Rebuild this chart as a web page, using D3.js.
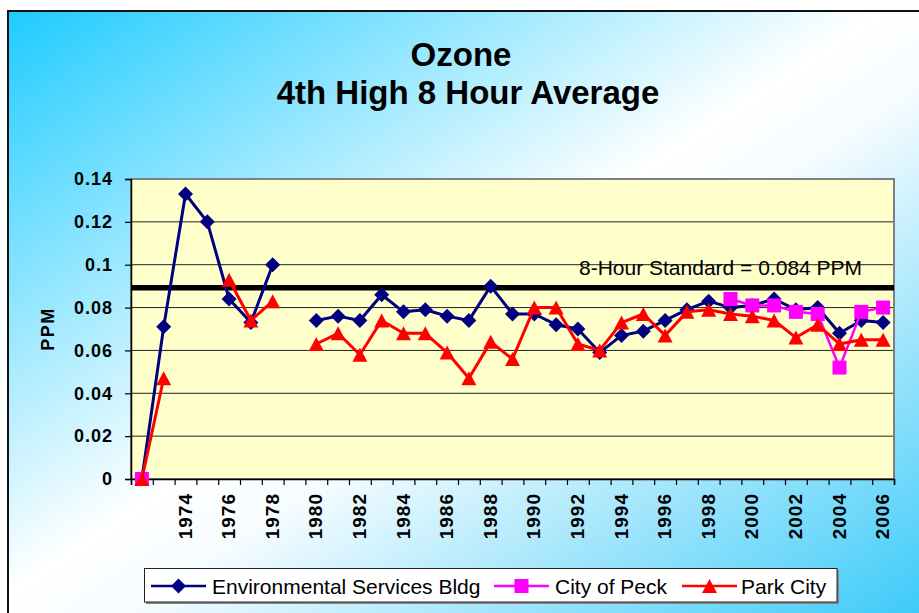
<!DOCTYPE html>
<html>
<head>
<meta charset="utf-8">
<script src="https://cdn.jsdelivr.net/npm/d3@7"></script>
<style>
  html, body { margin: 0; padding: 0; background: #ffffff; }
  svg { display: block; font-family: Arial, "Liberation Sans", sans-serif; }
</style>
</head>
<body>
<svg id="chart" width="919" height="613"></svg>
<script>
// ---------- data ----------
const years = ["1972","1973","1974","1975","1976","1977","1978","1979","1980","1981",
  "1982","1983","1984","1985","1986","1987","1988","1989","1990","1991",
  "1992","1993","1994","1995","1996","1997","1998","1999","2000","2001",
  "2002","2003","2004","2005","2006"];
const shownYearLabels = ["1974","1976","1978","1980","1982","1984","1986","1988","1990",
  "1992","1994","1996","1998","2000","2002","2004","2006"];
const envServicesBldg = [0, 0.071, 0.133, 0.120, 0.084, 0.073, 0.100, null, 0.074, 0.076,
  0.074, 0.086, 0.078, 0.079, 0.076, 0.074, 0.090, 0.077, 0.077, 0.072,
  0.070, 0.059, 0.067, 0.069, 0.074, 0.079, 0.083, 0.080, 0.081, 0.084,
  0.079, 0.080, 0.068, 0.074, 0.073];
const cityOfPeck = [0, null, null, null, null, null, null, null, null, null,
  null, null, null, null, null, null, null, null, null, null,
  null, null, null, null, null, null, null, 0.084, 0.081, 0.081,
  0.078, 0.077, 0.052, 0.078, 0.080];
const parkCity = [0, 0.047, null, null, 0.093, 0.074, 0.083, null, 0.063, 0.068,
  0.058, 0.074, 0.068, 0.068, 0.059, 0.047, 0.064, 0.056, 0.080, 0.080,
  0.063, 0.060, 0.073, 0.077, 0.067, 0.078, 0.079, 0.077, 0.076, 0.074,
  0.066, 0.072, 0.063, 0.065, 0.065];
const yTickValues = [0, 0.02, 0.04, 0.06, 0.08, 0.1, 0.12, 0.14];
const yTickLabels = ["0", "0.02", "0.04", "0.06", "0.08", "0.1", "0.12", "0.14"];
const standardValue = 0.0893;
const standardLabel = "8-Hour Standard = 0.084 PPM";
const seriesNames = ["Environmental Services Bldg", "City of Peck", "Park City"];
const titleLines = ["Ozone", "4th High 8 Hour Average"];
const yAxisTitle = "PPM";

// ---------- layout ----------
const svg = d3.select("#chart");
const plot = { left: 131, right: 894, top: 179, bottom: 479 };

const defs = svg.append("defs");
const grad = defs.append("linearGradient").attr("id", "bg")
  .attr("x1", 0).attr("y1", 0).attr("x2", 1).attr("y2", 1);
grad.append("stop").attr("offset", 0).attr("stop-color", "#1ECBFF");
grad.append("stop").attr("offset", 0.47).attr("stop-color", "#FFFFFF");
grad.append("stop").attr("offset", 0.55).attr("stop-color", "#F6FCFF");
grad.append("stop").attr("offset", 1).attr("stop-color", "#33C8F8");

svg.append("rect").attr("x", 8).attr("y", 11).attr("width", 930).attr("height", 620)
  .attr("fill", "url(#bg)").attr("stroke", "#111").attr("stroke-width", 2);

// title
svg.append("text").attr("x", 461).attr("y", 66).attr("text-anchor", "middle")
  .attr("font-size", 33).attr("font-weight", "bold").text(titleLines[0]);
svg.append("text").attr("x", 468).attr("y", 104).attr("text-anchor", "middle")
  .attr("font-size", 33).attr("font-weight", "bold").text(titleLines[1]);

// scales
const x = d3.scaleBand().domain(years).range([plot.left, plot.right]).padding(0);
const xEdge = d3.scaleLinear().domain([0, years.length]).range([plot.left, plot.right]);
const y = d3.scaleLinear().domain([0, 0.14]).range([plot.bottom, plot.top]);
const cx = d => x(d) + x.bandwidth() / 2;

// plot area
svg.append("rect").attr("x", plot.left).attr("y", plot.top)
  .attr("width", plot.right - plot.left).attr("height", plot.bottom - plot.top)
  .attr("fill", "#FFFFCC");

// gridlines
svg.append("g").selectAll("line").data(yTickValues.filter(v => v > 0)).join("line")
  .attr("x1", plot.left).attr("x2", plot.right)
  .attr("y1", d => y(d)).attr("y2", d => y(d))
  .attr("stroke", "#222").attr("stroke-width", 1);

// plot border
svg.append("rect").attr("x", plot.left).attr("y", plot.top)
  .attr("width", plot.right - plot.left).attr("height", plot.bottom - plot.top)
  .attr("fill", "none").attr("stroke", "#808080").attr("stroke-width", 2);

// y axis
const yAxis = svg.append("g").attr("transform", `translate(${plot.left},0)`)
  .call(d3.axisLeft(y).tickValues(yTickValues).tickSize(6).tickPadding(12)
    .tickFormat((d, i) => yTickLabels[i]));
yAxis.select(".domain").attr("stroke", "#000").attr("stroke-width", 1.5);
yAxis.selectAll(".tick line").attr("stroke", "#000").attr("stroke-width", 1.2);
yAxis.selectAll("text").attr("font-size", 18).attr("font-weight", "bold")
  .attr("font-family", "Arial, 'Liberation Sans', sans-serif")
  .attr("letter-spacing", 1).attr("fill", "#000");

// x axis ticks (category boundaries)
const xTicks = svg.append("g").attr("transform", `translate(0,${plot.bottom})`)
  .call(d3.axisBottom(xEdge).tickValues(d3.range(years.length + 1)).tickSize(6).tickFormat(""));
xTicks.select(".domain").attr("stroke", "#000").attr("stroke-width", 1.5);
xTicks.selectAll(".tick line").attr("stroke", "#000").attr("stroke-width", 1.2);

// x axis labels (rotated)
const xLabels = svg.append("g").attr("transform", `translate(0,${plot.bottom})`)
  .call(d3.axisBottom(x).tickValues(shownYearLabels).tickSize(0).tickPadding(0));
xLabels.select(".domain").remove();
xLabels.selectAll("text")
  .attr("font-size", 19).attr("font-weight", "bold").attr("letter-spacing", 1)
  .attr("font-family", "Arial, 'Liberation Sans', sans-serif").attr("fill", "#000")
  .attr("text-anchor", "end").attr("dy", null).attr("y", 0).attr("x", 0)
  .attr("transform", "translate(6,14) rotate(-90)");

// y axis title
svg.append("text").attr("transform", "translate(54,329) rotate(-90)")
  .attr("text-anchor", "middle").attr("font-size", 18).attr("font-weight", "bold")
  .attr("letter-spacing", 1.5).text(yAxisTitle);

// standard line
svg.append("line").attr("x1", plot.left).attr("x2", plot.right)
  .attr("y1", y(standardValue)).attr("y2", y(standardValue))
  .attr("stroke", "#000").attr("stroke-width", 5.5);
svg.append("text").attr("x", 579).attr("y", 275).attr("font-size", 21)
  .attr("fill", "#000").text(standardLabel);

// markers
const diamond = s => `M0,${-s}L${s},0L0,${s}L${-s},0Z`;
const square = s => `M${-s},${-s}H${s}V${s}H${-s}Z`;
const triangle = (w, h) => `M0,${-h/2}L${w/2},${h/2}L${-w/2},${h/2}Z`;

const series = [
  { name: seriesNames[0], values: envServicesBldg, color: "#000080", marker: diamond(7.5), lw: 3 },
  { name: seriesNames[1], values: cityOfPeck, color: "#FF00FF", marker: square(7), lw: 2.5 },
  { name: seriesNames[2], values: parkCity, color: "#FF0000", marker: triangle(15, 14), lw: 3 }
];

const line = d3.line().defined(d => d.v !== null).x(d => cx(d.c)).y(d => y(d.v));
series.forEach(s => {
  const pts = years.map((c, i) => ({ c, v: s.values[i] }));
  const g = svg.append("g");
  g.append("path").datum(pts).attr("d", line).attr("fill", "none")
    .attr("stroke", s.color).attr("stroke-width", s.lw).attr("stroke-linejoin", "round");
  g.selectAll("path.m").data(pts.filter(d => d.v !== null)).join("path").attr("class", "m")
    .attr("d", s.marker).attr("fill", s.color)
    .attr("transform", d => `translate(${cx(d.c)},${y(d.v)})`);
});

// legend
const lg = svg.append("g");
lg.append("rect").attr("x", 146).attr("y", 570).attr("width", 693).attr("height", 34)
  .attr("fill", "#888");
lg.append("rect").attr("x", 144.5).attr("y", 568.5).attr("width", 692.5).attr("height", 33.5)
  .attr("fill", "#fff").attr("stroke", "#222").attr("stroke-width", 1);
const legendItems = [
  { s: series[0], x1: 151, tx: 212 },
  { s: series[1], x1: 494, tx: 555 },
  { s: series[2], x1: 682, tx: 741 }
];
legendItems.forEach(it => {
  const cyL = 586;
  lg.append("line").attr("x1", it.x1).attr("x2", it.x1 + 55).attr("y1", cyL).attr("y2", cyL)
    .attr("stroke", it.s.color).attr("stroke-width", 2.5);
  lg.append("path").attr("d", it.s.marker).attr("fill", it.s.color)
    .attr("transform", `translate(${it.x1 + 27.5},${cyL})`);
  lg.append("text").attr("x", it.tx).attr("y", cyL + 7.5).attr("font-size", 21)
    .attr("fill", "#000").text(it.s.name);
});
</script>
</body>
</html>
